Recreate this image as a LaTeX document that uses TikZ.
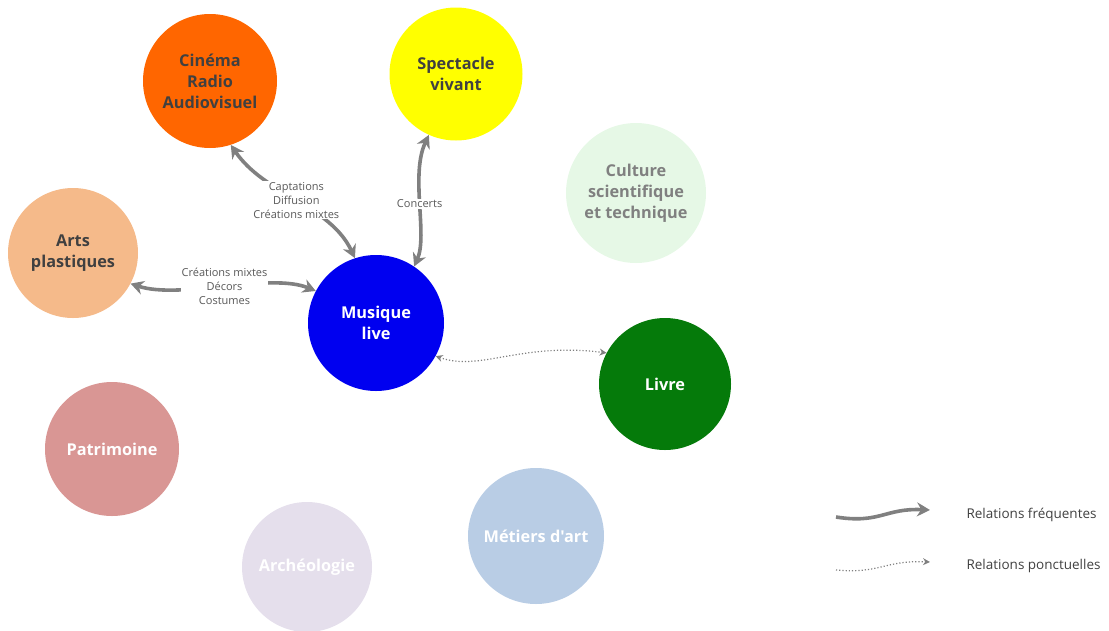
\documentclass[tikz,border=0pt]{standalone}
\usepackage{fontspec}
\setmainfont{Open Sans}[Ligatures=TeXOff]
\usetikzlibrary{arrows.meta}
\definecolor{cinema}{HTML}{FF6600}
\definecolor{spect}{HTML}{FFFF00}
\definecolor{culture}{HTML}{E6F8E6}
\definecolor{arts}{HTML}{F5BA8A}
\definecolor{musique}{HTML}{0000F0}
\definecolor{livre}{HTML}{057A0A}
\definecolor{patri}{HTML}{D99694}
\definecolor{archeo}{HTML}{E5DFEC}
\definecolor{metiers}{HTML}{B9CDE5}
\definecolor{darktext}{HTML}{404040}
\definecolor{arrowgray}{HTML}{808080}
\definecolor{labelgray}{HTML}{595959}
\tikzset{
  dombox/.style={circle, inner sep=0pt, align=center, font=\fontsize{16.3}{21}\selectfont\bfseries},
  freq/.style={draw=arrowgray, line width=3.6pt, {Stealth[length=13pt,width=14pt]}-{Stealth[length=13pt,width=14pt]}},
  ponct/.style={draw=arrowgray, line width=1.2pt, dotted, {Stealth[length=7pt,width=7pt]}-{Stealth[length=7pt,width=7pt]}},
  rellabel/.style={fill=white, inner sep=1pt, align=center, text=labelgray, font=\fontsize{11}{14}\selectfont},
  legtext/.style={anchor=west, text=darktext, font=\fontsize{13.5}{14}\selectfont}
}
\begin{document}
\begin{tikzpicture}[x=1pt,y=-1pt]
\useasboundingbox (0,0) rectangle (1109,630);
\node[dombox, fill=cinema, minimum size=134pt, text=darktext] (cin) at (210,81) {Cinéma\\Radio\\Audiovisuel};
\node[dombox, fill=spect, minimum size=133pt, text=darktext] (spe) at (456,74) {Spectacle\\vivant};
\node[dombox, fill=culture, minimum size=140pt, text=arrowgray] (cul) at (636,193) {Culture\\scientifique\\et technique};
\node[dombox, fill=arts, minimum size=130pt, text=darktext] (art) at (73,253) {Arts\\plastiques};
\node[dombox, fill=musique, minimum size=136pt, text=white] (mus) at (376,323) {Musique\\live};
\node[dombox, fill=livre, minimum size=132pt, text=white] (liv) at (665,384) {Livre};
\node[dombox, fill=patri, minimum size=134pt, text=white] (pat) at (112,449) {Patrimoine};
\node[dombox, fill=archeo, minimum size=130pt, text=white] (arc) at (307,567) {Archéologie};
\node[dombox, fill=metiers, minimum size=136pt, text=white] (met) at (536,536) {Métiers d'art};

\draw[freq] (cin.-72) .. controls (265,195) and (330,205) .. (mus.108)
  node[pos=0.5, rellabel] {Captations\\Diffusion\\Créations mixtes};
\draw[freq] (spe.-114) .. controls (410,175) and (428,235) .. (mus.56)
  node[pos=0.5, rellabel] {Concerts};
\draw[freq] (art.-28) .. controls (180,300) and (270,272) .. (mus.152)
  node[pos=0.5, rellabel] {Créations mixtes\\Décors\\Costumes};
\draw[ponct] (mus.-29) .. controls (480,372) and (520,342) .. (liv.152);

\coordinate (l1a) at (836,517);
\coordinate (l1b) at (930,510);
\coordinate (l2a) at (836,570);
\coordinate (l2b) at (930,562);
\draw[draw=arrowgray, line width=3.6pt, -{Stealth[length=13pt,width=14pt]}] (l1a) .. controls (880,524) and (885,508) .. (l1b);
\draw[draw=arrowgray, line width=1.2pt, dotted, -{Stealth[length=7pt,width=7pt]}] (l2a) .. controls (880,574) and (885,560) .. (l2b);
\node[legtext] (t1) at (963,515) {Relations fréquentes};
\node[legtext] (t2) at (963,566) {Relations ponctuelles};
\end{tikzpicture}
\end{document}
